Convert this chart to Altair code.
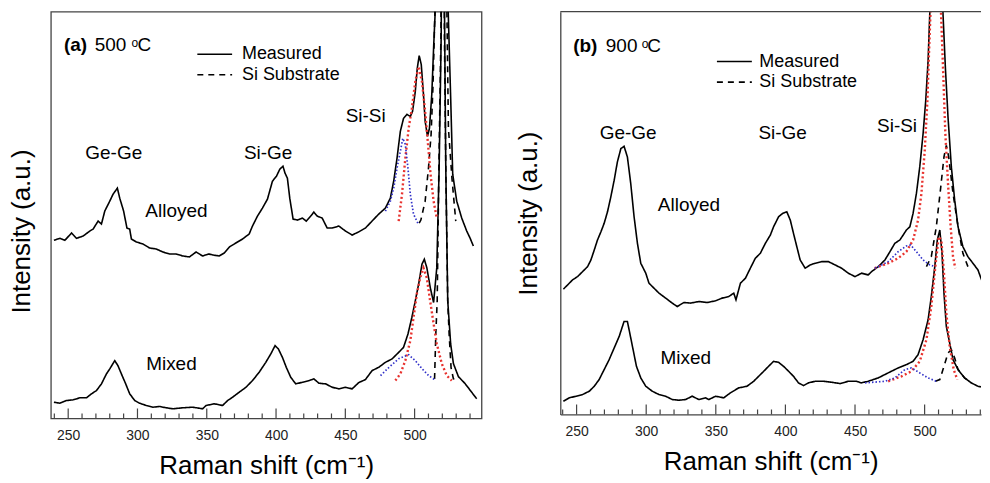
import altair as alt
import pandas as pd

# ---------------- axis tick values ----------------
MAJOR_TICKS = [250, 300, 350, 400, 450, 500]
MINOR_TICKS = [240, 260, 270, 280, 290, 310, 320, 330, 340, 360, 370, 380, 390,
               410, 420, 430, 440, 460, 470, 480, 490, 510, 520, 530, 540]

LABELS = ["Ge-Ge", "Si-Ge", "Si-Si", "Alloyed", "Mixed"]
LEGEND_LABELS = ["Measured", "Si Substrate"]

# ---------------- panel (a) 500 C : (Raman shift, intensity a.u.) ----------------
A_ALLOYED_MEASURED = [
    (239.7, 178.7), (244.0, 180.7), (247.6, 178.7), (252.4, 186), (256.0, 180.7), (260.8, 183),
    (265.6, 188), (268.0, 190), (271.6, 198), (274.0, 195), (276.4, 208), (280.0, 218), (282.4, 225),
    (285.5, 231), (287.2, 221), (290.0, 208), (292.4, 191), (294.4, 190), (295.6, 180), (299.2, 177),
    (304.0, 175), (308.7, 171), (313.5, 170), (318.3, 167), (323.1, 165), (327.9, 165), (332.7, 163),
    (337.5, 162), (342.3, 167), (347.0, 163), (351.4, 165), (354.3, 164), (359.0, 163), (362.7, 166),
    (366.3, 172), (371.0, 176), (375.8, 180), (380.6, 185), (383.0, 193), (386.6, 203), (390.2, 211),
    (393.8, 220), (397.4, 238), (400.3, 243), (402.7, 250), (405.0, 253), (406.5, 246), (408.2, 241),
    (409.9, 221), (412.3, 200), (415.4, 199), (419.0, 201), (421.8, 198), (425.0, 203), (427.3, 207),
    (429.7, 203), (433.3, 201), (436.9, 191), (440.5, 191), (445.3, 193), (450.1, 188), (454.9, 184),
    (459.5, 187), (464.5, 191), (469.3, 198), (474.1, 205), (478.9, 211), (482.5, 221), (484.9, 238),
    (487.3, 261), (489.7, 288), (492.0, 301), (494.5, 305), (496.9, 303), (498.5, 308), (500.5, 328),
    (501.9, 351), (503.3, 364), (504.8, 355), (506.4, 325), (507.6, 298), (509.3, 283), (510.7, 291),
    (512.4, 325), (513.8, 375), (514.8, 406), (517.0, 700), (520.0, 1100), (522.5, 700), (524.0, 420),
    (526.1, 318), (527.5, 245), (530.4, 218), (534.0, 201), (537.6, 188), (540.0, 181), (542.4, 173)]
A_MIXED_MEASURED = [
    (239.7, 16.3), (244.0, 15.3), (248.8, 18), (253.6, 18.7), (258.4, 20.7), (263.2, 20.7), (266.8, 24.7),
    (270.4, 28), (274.0, 34.7), (277.6, 44.7), (280.0, 49.7), (283.6, 58), (285.9, 53), (288.4, 44.7),
    (291.5, 34.7), (294.4, 24.7), (298.0, 18), (301.5, 15.3), (306.4, 13), (311.1, 11.3), (316.0, 12),
    (320.7, 10.7), (325.5, 9.7), (332.7, 10.7), (339.9, 11.3), (347.0, 9.7), (349.5, 13), (355.5, 14.7),
    (361.4, 13), (365.1, 18), (368.6, 21.3), (373.4, 26.3), (378.3, 31.3), (383.0, 38), (387.8, 46.3),
    (392.6, 56.3), (396.2, 64.7), (399.3, 73), (401.7, 69.7), (404.6, 61.3), (407.4, 51.3), (410.6, 41.3),
    (414.2, 34.7), (419.0, 36.3), (423.8, 38), (427.3, 39.7), (431.0, 35.3), (435.8, 34.7), (440.5, 31.3),
    (445.3, 29.7), (450.1, 31.3), (454.9, 29.7), (459.7, 36), (464.5, 39), (469.3, 48), (474.1, 51.3),
    (478.9, 56.3), (483.7, 59.7), (488.5, 66.3), (492.0, 71.3), (495.2, 84.7), (498.0, 101.3),
    (500.5, 118), (502.9, 134.7), (505.3, 154.7), (507.0, 159.7), (508.8, 151.3), (511.3, 131.3),
    (513.7, 116.3), (516.0, 151.3), (517.7, 251), (519.2, 385), (520.5, 900), (521.5, 420), (522.5, 251),
    (523.9, 118), (526.0, 75), (528.0, 55), (531.6, 42), (536.4, 35), (541.2, 26.3), (544.8, 19.7)]
A_ALLOYED_SUBSTRATE = [
    (503.3, 196), (504.5, 199), (507.6, 218), (510.0, 251), (511.9, 285), (513.3, 335), (514.6, 406),
    (517.0, 700), (520.0, 1000), (522.0, 700), (523.2, 420), (524.4, 291), (527.0, 240), (529.7, 198)]
A_MIXED_SUBSTRATE = [
    (514.4, 39.7), (515.3, 85), (516.3, 118), (517.5, 251), (519.0, 385), (520.3, 900), (521.5, 385),
    (522.5, 251), (523.9, 118), (524.9, 85), (526.3, 51), (528.0, 39.7), (531.6, 39)]
A_ALLOYED_FIT_RED = [
    (488.5, 198), (490.9, 225), (493.3, 261), (495.7, 291), (498.0, 311), (500.5, 338), (502.9, 353),
    (505.3, 338), (507.6, 308), (509.5, 278), (511.5, 245), (513.7, 218), (516.0, 201)]
A_ALLOYED_FIT_BLUE = [
    (478.9, 208), (482.5, 218), (484.9, 231), (487.3, 251), (489.7, 268), (491.5, 281), (493.3, 275),
    (495.2, 251), (496.9, 225), (499.2, 205), (502.3, 196)]
A_MIXED_FIT_RED = [
    (486.1, 38), (489.7, 44.7), (493.3, 58), (496.9, 78), (499.2, 101), (501.6, 125), (504.0, 141),
    (506.4, 151), (508.8, 141), (511.2, 118), (513.7, 95), (516.0, 75), (519.6, 55), (523.2, 43), (526.8, 38)]
A_MIXED_FIT_BLUE = [
    (475.4, 43), (481.3, 51), (488.5, 60), (495.7, 64), (500.5, 58), (505.3, 50), (510.1, 43), (514.4, 39)]

# ---------------- panel (b) 900 C ----------------
B_ALLOYED_MEASURED = [
    (240.5, 125.7), (243.6, 130), (247.1, 135), (250.7, 138.3), (254.3, 143.3), (257.9, 148.3),
    (260.3, 155), (262.7, 165), (265.0, 175), (267.5, 183.3), (269.8, 191.7), (272.2, 203.3),
    (274.6, 218.3), (277.0, 235), (279.3, 253.3), (281.8, 266.7), (284.1, 269), (286.5, 258.3),
    (288.9, 231.7), (291.3, 198.3), (293.7, 171.7), (296.1, 151.7), (299.7, 141.7), (302.0, 131.7),
    (305.6, 126.7), (309.2, 121.7), (314.0, 116.7), (318.7, 111.7), (322.3, 108.3), (327.1, 112.3),
    (331.9, 111.7), (337.8, 113.3), (343.8, 112.3), (349.8, 114), (354.5, 116.7), (359.3, 118.3),
    (362.9, 121.7), (364.5, 115), (367.7, 131.7), (371.3, 136.7), (374.8, 146.7), (378.4, 156.7),
    (382.0, 161.7), (385.6, 171.7), (389.2, 180), (391.5, 188.3), (395.1, 198.3), (398.0, 201.7),
    (401.0, 203.3), (403.5, 195), (405.8, 181.7), (408.2, 168.3), (410.6, 155), (414.2, 146.7),
    (417.8, 150), (421.4, 151.7), (426.1, 153.3), (430.9, 153.3), (435.7, 150), (440.4, 146.7),
    (445.2, 141.7), (450.0, 138.3), (454.7, 141.7), (459.5, 140), (461.9, 143.3), (466.7, 148.3),
    (471.5, 155), (475.1, 163.3), (478.6, 171.7), (482.2, 175), (484.6, 180), (486.9, 185), (489.4, 188.3),
    (491.7, 201.7), (494.1, 221.7), (496.5, 248.3), (498.9, 281.7), (500.8, 315), (502.5, 355),
    (503.7, 402), (506.0, 600), (508.5, 750), (511.0, 600), (513.2, 402), (514.9, 348.3), (516.8, 298.3),
    (519.2, 248.3), (521.6, 215), (524.0, 188.3), (527.5, 168.3), (531.1, 158.3), (534.7, 151.7),
    (538.3, 145), (541.8, 131.7), (544.2, 135)]
B_MIXED_MEASURED = [
    (240.5, 13.3), (244.8, 16.7), (249.6, 18.3), (254.3, 20), (259.1, 23.3), (262.7, 28.3), (266.2, 35),
    (269.8, 45), (273.4, 55), (277.0, 66.7), (280.6, 78.3), (284.1, 93.3), (286.5, 93.3), (288.2, 81.7),
    (290.6, 65), (293.0, 48.3), (296.1, 36.7), (299.7, 28.3), (304.4, 23.3), (309.2, 20), (314.0, 18.3),
    (318.7, 15), (323.5, 14.3), (328.3, 15), (333.0, 18.3), (337.8, 15), (342.6, 16.7), (345.0, 15),
    (349.8, 18.3), (355.7, 16.7), (360.5, 21.7), (366.5, 26.7), (372.4, 28.3), (377.2, 33.3),
    (380.8, 38.3), (384.4, 43.3), (387.9, 48.3), (391.5, 53.3), (395.1, 52.3), (398.7, 48.3),
    (402.3, 43.3), (405.8, 38.3), (409.4, 31.7), (413.0, 29), (416.6, 31.7), (421.4, 33.3), (427.3, 33.3),
    (433.3, 32.3), (439.3, 31), (445.2, 33.3), (451.1, 33.3), (454.5, 31.7), (459.5, 33.3), (466.7, 36.7),
    (473.8, 41.7), (481.0, 46.7), (486.9, 50), (491.7, 53.3), (495.3, 60), (498.9, 75), (502.5, 95),
    (504.8, 118.3), (507.3, 148.3), (509.1, 175), (510.9, 185), (512.5, 161.7), (513.9, 121.7),
    (515.6, 88.3), (518.0, 71.7), (520.4, 55), (524.0, 45), (528.7, 36.7), (533.5, 31.7), (538.3, 28.3),
    (544.2, 26.7)]
B_ALLOYED_SUBSTRATE = [
    (501.3, 148.3), (504.8, 158.3), (508.4, 188.3), (511.6, 228.3), (513.9, 258.3), (515.6, 270),
    (517.3, 258.3), (520.4, 221.7), (524.0, 188.3), (527.5, 161.7), (531.1, 148.3)]
B_MIXED_SUBSTRATE = [
    (507.7, 33.3), (510.9, 35), (513.9, 48.3), (516.8, 61.7), (519.2, 65), (521.6, 56.7), (524.0, 45),
    (528.7, 36.7), (533.5, 31.7)]
B_ALLOYED_FIT_RED = [
    (464.1, 146.7), (473.8, 151.7), (481.0, 156.7), (486.9, 163.3), (491.7, 175), (495.3, 195),
    (497.7, 221.7), (500.1, 265), (502.0, 315), (503.2, 365), (504.4, 410), (506.5, 600), (508.0, 700),
    (509.5, 600), (511.6, 410), (513.2, 348), (514.9, 281.7), (516.8, 231.7), (518.7, 188.3),
    (520.4, 158.3), (522.0, 146.7)]
B_ALLOYED_FIT_BLUE = [
    (464.3, 146.7), (473.8, 153.3), (481.0, 163.3), (486.9, 169), (490.0, 170), (494.1, 163.3),
    (498.9, 155), (503.7, 150), (507.7, 148.3)]
B_MIXED_FIT_RED = [
    (473.8, 33.3), (483.4, 38.3), (490.5, 43.3), (496.5, 53.3), (501.3, 75), (504.8, 108.3), (507.7, 148.3),
    (510.1, 178.3), (512.0, 175), (513.9, 141.7), (515.6, 101.7), (518.0, 68.3), (520.9, 45), (523.5, 35)]
B_MIXED_FIT_BLUE = [
    (457.2, 31.7), (471.5, 33.3), (478.6, 36.7), (485.8, 45), (490.5, 46.7), (496.5, 41.7), (502.5, 36.7),
    (508.4, 33.3)]

# ---------------- annotations (data coordinates) ----------------
A_LABEL_X = [282.9, 394.3, 464.7, 328.1, 324.5]
A_LABEL_Y = [266, 266, 303, 208, 55]
B_LABEL_X = [287.0, 398.0, 480.2, 330.7, 328.4]
B_LABEL_Y = [282, 282, 289, 210, 57]

A_HEADING = {"tag": "(a)", "temp": "500", "unit": "C", "x": [246.9, 269.2, 295.6, 300.1], "y": 368.7, "oy": 373}
B_HEADING = {"tag": "(b)", "temp": "900", "unit": "C", "x": [247.6, 271.0, 296.8, 300.8], "y": 363.3, "oy": 367.3}

A_LEGEND = {"x": [343.2, 368.3], "text_x": 375.4, "y": [365.3, 344.7]}
B_LEGEND = {"x": [350.8, 375.9], "text_x": 381.3, "y": [354.0, 333.4]}

DASH_SCALE = alt.Scale(domain=LEGEND_LABELS, range=[[1, 0], [6, 5]])
FONT = "Liberation Sans"
BORDER = "#444444"


def frame(points, sample, kind):
    return pd.DataFrame({"shift": [p[0] for p in points],
                         "intensity": [p[1] for p in points],
                         "sample": sample, "kind": kind})


def make_panel(curves, label_x, label_y, heading, legend, xdom, ydom, w, h,
               title_pad, boxed, title_y=None):
    data = pd.concat([frame(*c) for c in curves], ignore_index=True)
    xs = alt.Scale(domain=xdom, nice=False, zero=False)
    ys = alt.Scale(domain=ydom, nice=False, zero=False)
    xaxis = alt.Axis(values=MAJOR_TICKS, ticks=False, domain=not boxed, domainColor=BORDER,
                     domainWidth=1.3, grid=False, labelFontSize=14, labelPadding=10,
                     labelColor="#222222", labelFont=FONT,
                     title="Raman shift (cm\u207b\u00b9)", titleFontSize=26, titleFont=FONT,
                     titleFontWeight="normal", titleColor="black", titlePadding=10)
    ykw = dict(labels=False, ticks=False, domain=not boxed, domainColor=BORDER, domainWidth=1.3,
               grid=False, title="Intensity (a.u.)", titleFontSize=26, titleFont=FONT,
               titleFontWeight="normal", titleColor="black", titlePadding=title_pad)
    if title_y is not None:
        ykw["titleY"] = title_y
    yaxis = alt.Axis(**ykw)
    X = alt.X("shift:Q", scale=xs, axis=xaxis)
    Y = alt.Y("intensity:Q", scale=ys, axis=yaxis)

    base = alt.Chart(data)
    black = base.transform_filter(
        alt.FieldOneOfPredicate(field="kind", oneOf=LEGEND_LABELS)
    ).mark_line(clip=True, color="black", strokeWidth=1.6).encode(
        x=X, y=Y, detail="sample:N",
        strokeDash=alt.StrokeDash("kind:N", scale=DASH_SCALE, legend=None))
    red = base.transform_filter(alt.datum.kind == "Fit red").mark_line(
        clip=True, color="#e8322e", strokeWidth=2.4, strokeDash=[2, 2.5]).encode(
        x=X, y=Y, detail="sample:N")
    blue = base.transform_filter(alt.datum.kind == "Fit blue").mark_line(
        clip=True, color="#3030c8", strokeWidth=1.7, strokeDash=[1.5, 2]).encode(
        x=X, y=Y, detail="sample:N")

    major = alt.Chart(pd.DataFrame({"shift": MAJOR_TICKS})).mark_rule(
        color=BORDER, strokeWidth=1.2).encode(x=X, y=alt.value(h), y2=alt.value(h - 10))
    minor = alt.Chart(pd.DataFrame({"shift": [t for t in MINOR_TICKS if t < xdom[1]]})).mark_rule(
        color=BORDER, strokeWidth=1.2).encode(x=X, y=alt.value(h), y2=alt.value(h - 5))

    labels = alt.Chart(pd.DataFrame({"shift": label_x, "intensity": label_y, "t": LABELS})).mark_text(
        fontSize=19, font=FONT, color="black", align="center", baseline="middle").encode(
        x=X, y=Y, text="t:N")

    hx = heading["x"]
    tag = alt.Chart(pd.DataFrame({"shift": [hx[0]], "intensity": [heading["y"]], "t": [heading["tag"]]})).mark_text(
        fontSize=19, font=FONT, fontWeight="bold", color="black", align="left",
        baseline="alphabetic").encode(x=X, y=Y, text="t:N")
    temp = alt.Chart(pd.DataFrame({"shift": [hx[1], hx[3]], "intensity": [heading["y"]] * 2,
                                   "t": [heading["temp"], heading["unit"]]})).mark_text(
        fontSize=19, font=FONT, color="black", align="left", baseline="alphabetic").encode(
        x=X, y=Y, text="t:N")
    sup = alt.Chart(pd.DataFrame({"shift": [hx[2]], "intensity": [heading["oy"]], "t": ["o"]})).mark_text(
        fontSize=12, font=FONT, color="black", align="left", baseline="alphabetic").encode(
        x=X, y=Y, text="t:N")

    leg_df = pd.DataFrame({"shift": [legend["x"][0]] * 2, "shift2": [legend["x"][1]] * 2,
                           "intensity": legend["y"], "kind": LEGEND_LABELS})
    leg_txt_df = pd.DataFrame({"shift": [legend["text_x"]] * 2, "intensity": legend["y"],
                               "kind": LEGEND_LABELS})
    leg_rules = alt.Chart(leg_df).mark_rule(color="black", strokeWidth=1.6).encode(
        x=X, x2="shift2:Q", y=Y,
        strokeDash=alt.StrokeDash("kind:N", scale=DASH_SCALE, legend=None))
    leg_text = alt.Chart(leg_txt_df).mark_text(
        fontSize=18, font=FONT, color="black", align="left", baseline="middle").encode(
        x=X, y=Y, text="kind:N")

    layers = [black, red, blue, major, minor, labels, tag, temp, sup, leg_rules, leg_text]
    if not boxed:
        top = alt.Chart(pd.DataFrame({"shift": [xdom[0]]})).mark_rule(
            color=BORDER, strokeWidth=1.3).encode(x=alt.value(0), x2=alt.value(w), y=alt.value(0))
        layers.append(top)
    chart = alt.layer(*layers).properties(width=w, height=h)
    if not boxed:
        chart = chart.properties(view=alt.ViewBackground(stroke=None))
    return chart


panel_a = make_panel(
    [(A_ALLOYED_MEASURED, "Alloyed", "Measured"), (A_MIXED_MEASURED, "Mixed", "Measured"),
     (A_ALLOYED_SUBSTRATE, "Alloyed", "Si Substrate"), (A_MIXED_SUBSTRATE, "Mixed", "Si Substrate"),
     (A_ALLOYED_FIT_RED, "Alloyed", "Fit red"), (A_MIXED_FIT_RED, "Mixed", "Fit red"),
     (A_ALLOYED_FIT_BLUE, "Alloyed", "Fit blue"), (A_MIXED_FIT_BLUE, "Mixed", "Fit blue")],
    A_LABEL_X, A_LABEL_Y, A_HEADING, A_LEGEND,
    xdom=[237.5, 548.3], ydom=[0, 408], w=432, h=408, title_pad=16, boxed=True, title_y=220)

panel_b = make_panel(
    [(B_ALLOYED_MEASURED, "Alloyed", "Measured"), (B_MIXED_MEASURED, "Mixed", "Measured"),
     (B_ALLOYED_SUBSTRATE, "Alloyed", "Si Substrate"), (B_MIXED_SUBSTRATE, "Mixed", "Si Substrate"),
     (B_ALLOYED_FIT_RED, "Alloyed", "Fit red"), (B_MIXED_FIT_RED, "Mixed", "Fit red"),
     (B_ALLOYED_FIT_BLUE, "Alloyed", "Fit blue"), (B_MIXED_FIT_BLUE, "Mixed", "Fit blue")],
    B_LABEL_X, B_LABEL_Y, B_HEADING, B_LEGEND,
    xdom=[238.3, 540.5], ydom=[0, 404], w=422, h=404, title_pad=19, boxed=False)

chart = alt.hconcat(panel_a, panel_b, spacing=33).resolve_scale(
    x="independent", y="independent"
).properties(
    padding={"left": 0, "top": 2, "right": 0, "bottom": 0}
).configure(font=FONT).configure_view(stroke=BORDER, strokeWidth=1.3)

chart.save("out.html", embed_options={"renderer": "svg", "actions": False})
